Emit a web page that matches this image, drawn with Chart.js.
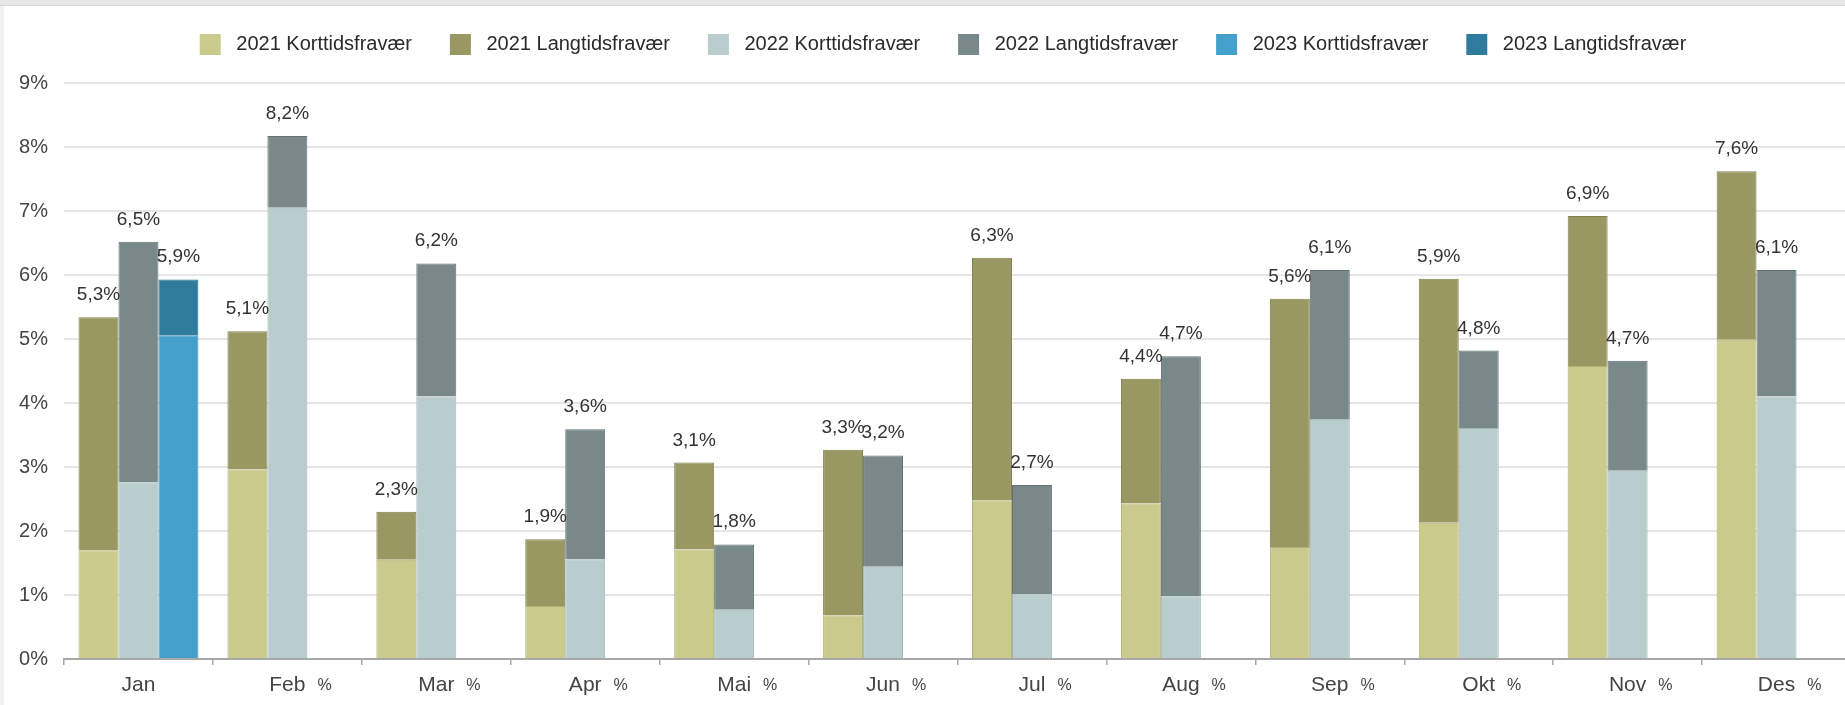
<!DOCTYPE html>
<html>
<head>
<meta charset="utf-8">
<script src="https://cdn.jsdelivr.net/npm/chart.js@4/dist/chart.umd.min.js"></script>
<style>
  html, body { margin: 0; padding: 0; background: #ffffff; overflow: hidden; }
  body { width: 1845px; height: 705px; position: relative; }
  #topband { position: absolute; left: 0; top: 0; width: 1845px; height: 5px; background: #e8e8e8; border-bottom: 1px solid #d6d6d6; }
  #leftband { position: absolute; left: 0; top: 6px; width: 4px; height: 699px; background: #f1f1f1; }
  #wrap { position: absolute; left: 0; top: 0; width: 1870px; height: 705px; }
</style>
</head>
<body>
<div id="topband"></div>
<div id="leftband"></div>
<div id="wrap"><canvas id="c"></canvas></div>
<script>
// ---- Data ----
const months = ['Jan', 'Feb', 'Mar', 'Apr', 'Mai', 'Jun', 'Jul', 'Aug', 'Sep', 'Okt', 'Nov', 'Des'];
const tickSuffix = ['', '%', '%', '%', '%', '%', '%', '%', '%', '%', '%', '%'];
const yTickLabels = ['0%', '1%', '2%', '3%', '4%', '5%', '6%', '7%', '8%', '9%'];

const kort2021 = [1.70, 2.96, 1.55, 0.83, 1.71, 0.68, 2.48, 2.43, 1.75, 2.13, 4.58, 4.99];
const lang2021 = [3.64, 2.16, 0.75, 1.04, 1.36, 2.59, 3.79, 1.95, 3.88, 3.81, 2.34, 2.63];
const kort2022 = [2.76, 7.05, 4.10, 1.56, 0.77, 1.44, 1.01, 0.98, 3.74, 3.61, 2.94, 4.10];
const lang2022 = [3.76, 1.12, 2.08, 2.03, 1.02, 1.74, 1.71, 3.75, 2.34, 1.21, 1.72, 1.98];
const kort2023 = [5.06, null, null, null, null, null, null, null, null, null, null, null];
const lang2023 = [0.87, null, null, null, null, null, null, null, null, null, null, null];

const seriesNames = ['2021 Korttidsfravær', '2021 Langtidsfravær', '2022 Korttidsfravær', '2022 Langtidsfravær', '2023 Korttidsfravær', '2023 Langtidsfravær'];
const colors = ['#c9ca8b', '#9a9862', '#b9cdcf', '#798888', '#45a1cc', '#2f7b9d'];
const borders = ['#b0b176', '#817f4e', '#a1b5b7', '#637171', '#3888ae', '#266783'];

const FONT = "'Liberation Sans', Arial, sans-serif";

const datasets = [
  { label: seriesNames[0], data: kort2021, stack: '2021' },
  { label: seriesNames[1], data: lang2021, stack: '2021' },
  { label: seriesNames[2], data: kort2022, stack: '2022' },
  { label: seriesNames[3], data: lang2022, stack: '2022' },
  { label: seriesNames[4], data: kort2023, stack: '2023' },
  { label: seriesNames[5], data: lang2023, stack: '2023' }
].map((d, i) => Object.assign(d, {
  backgroundColor: colors[i],
  borderColor: borders[i],
  borderWidth: 1,
  categoryPercentage: 0.805,
  barPercentage: 1.0
}));

// Fix legend block height and horizontal placement
const legendFix = {
  id: 'legendFix',
  beforeLayout(chart) {
    const lg = chart.legend;
    if (!lg || lg._patched) return;
    const f = lg.fit.bind(lg);
    lg.fit = function () { f(); this.height = 87; };
    lg._patched = true;
  },
  afterLayout(chart) {
    const lg = chart.legend;
    if (lg) { lg.left = 35; }
  }
};

// Total labels above each stack
const totalLabels = {
  id: 'totalLabels',
  afterDatasetsDraw(chart) {
    const ctx = chart.ctx;
    ctx.save();
    ctx.font = '19px ' + FONT;
    ctx.fillStyle = '#333333';
    ctx.textAlign = 'center';
    ctx.textBaseline = 'alphabetic';
    [[0, 1], [2, 3], [4, 5]].forEach(([ki, li]) => {
      const meta = chart.getDatasetMeta(li);
      const kd = chart.data.datasets[ki].data;
      const ld = chart.data.datasets[li].data;
      meta.data.forEach((bar, i) => {
        if (kd[i] == null || ld[i] == null) return;
        const total = kd[i] + ld[i];
        const txt = total.toFixed(1).replace('.', ',') + '%';
        ctx.fillText(txt, bar.x, bar.y - 17);
      });
    });
    ctx.restore();
  }
};

// Small "%" suffix after month tick labels
const suffixPlugin = {
  id: 'suffixPlugin',
  afterDraw(chart) {
    const sx = chart.scales.x;
    const ctx = chart.ctx;
    ctx.save();
    ctx.font = '21px ' + FONT;
    const widths = months.map(m => ctx.measureText(m).width);
    ctx.font = '16px ' + FONT;
    ctx.fillStyle = '#444444';
    ctx.textAlign = 'left';
    ctx.textBaseline = 'alphabetic';
    months.forEach((m, i) => {
      if (!tickSuffix[i]) return;
      const cx = sx.getPixelForTick(i);
      ctx.fillText(tickSuffix[i], cx + widths[i] / 2 + 12, sx.top + 31);
    });
    ctx.restore();
  }
};

new Chart(document.getElementById('c'), {
  type: 'bar',
  data: { labels: months, datasets },
  plugins: [legendFix, totalLabels, suffixPlugin],
  options: {
    responsive: true,
    maintainAspectRatio: false,
    animation: false,
    layout: { padding: { left: 10, right: 19, top: -4, bottom: 0 } },
    plugins: {
      tooltip: { enabled: false },
      legend: {
        position: 'top',
        align: 'center',
        labels: {
          boxWidth: 21,
          boxHeight: 21,
          padding: 38,
          color: '#2a2a2a',
          font: { family: FONT, size: 20 },
          generateLabels(chart) {
            const items = Chart.defaults.plugins.legend.labels.generateLabels(chart);
            return items.map(it => Object.assign(it, { text: ' ' + it.text, lineWidth: 0, strokeStyle: 'rgba(0,0,0,0)' }));
          }
        }
      }
    },
    scales: {
      x: {
        stacked: true,
        afterFit(scale) { scale.height = 46; },
        grid: { display: true, drawOnChartArea: false, drawTicks: true, tickLength: 6, color: '#a8a8a8', lineWidth: 1.5, offset: true },
        border: { display: true, color: '#a8a8a8', width: 2 },
        ticks: { color: '#444444', font: { family: FONT, size: 21 }, padding: 8, maxRotation: 0, autoSkip: false }
      },
      y: {
        stacked: true,
        min: 0,
        max: 9,
        grid: { color: '#e6e6e6', lineWidth: 2, drawTicks: false },
        border: { display: false },
        afterFit(scale) { scale.width = 54; },
        ticks: {
          stepSize: 1,
          padding: 16,
          color: '#444444',
          font: { family: FONT, size: 20 },
          callback: (v) => yTickLabels[Math.round(v)]
        }
      }
    }
  }
});
</script>
</body>
</html>
